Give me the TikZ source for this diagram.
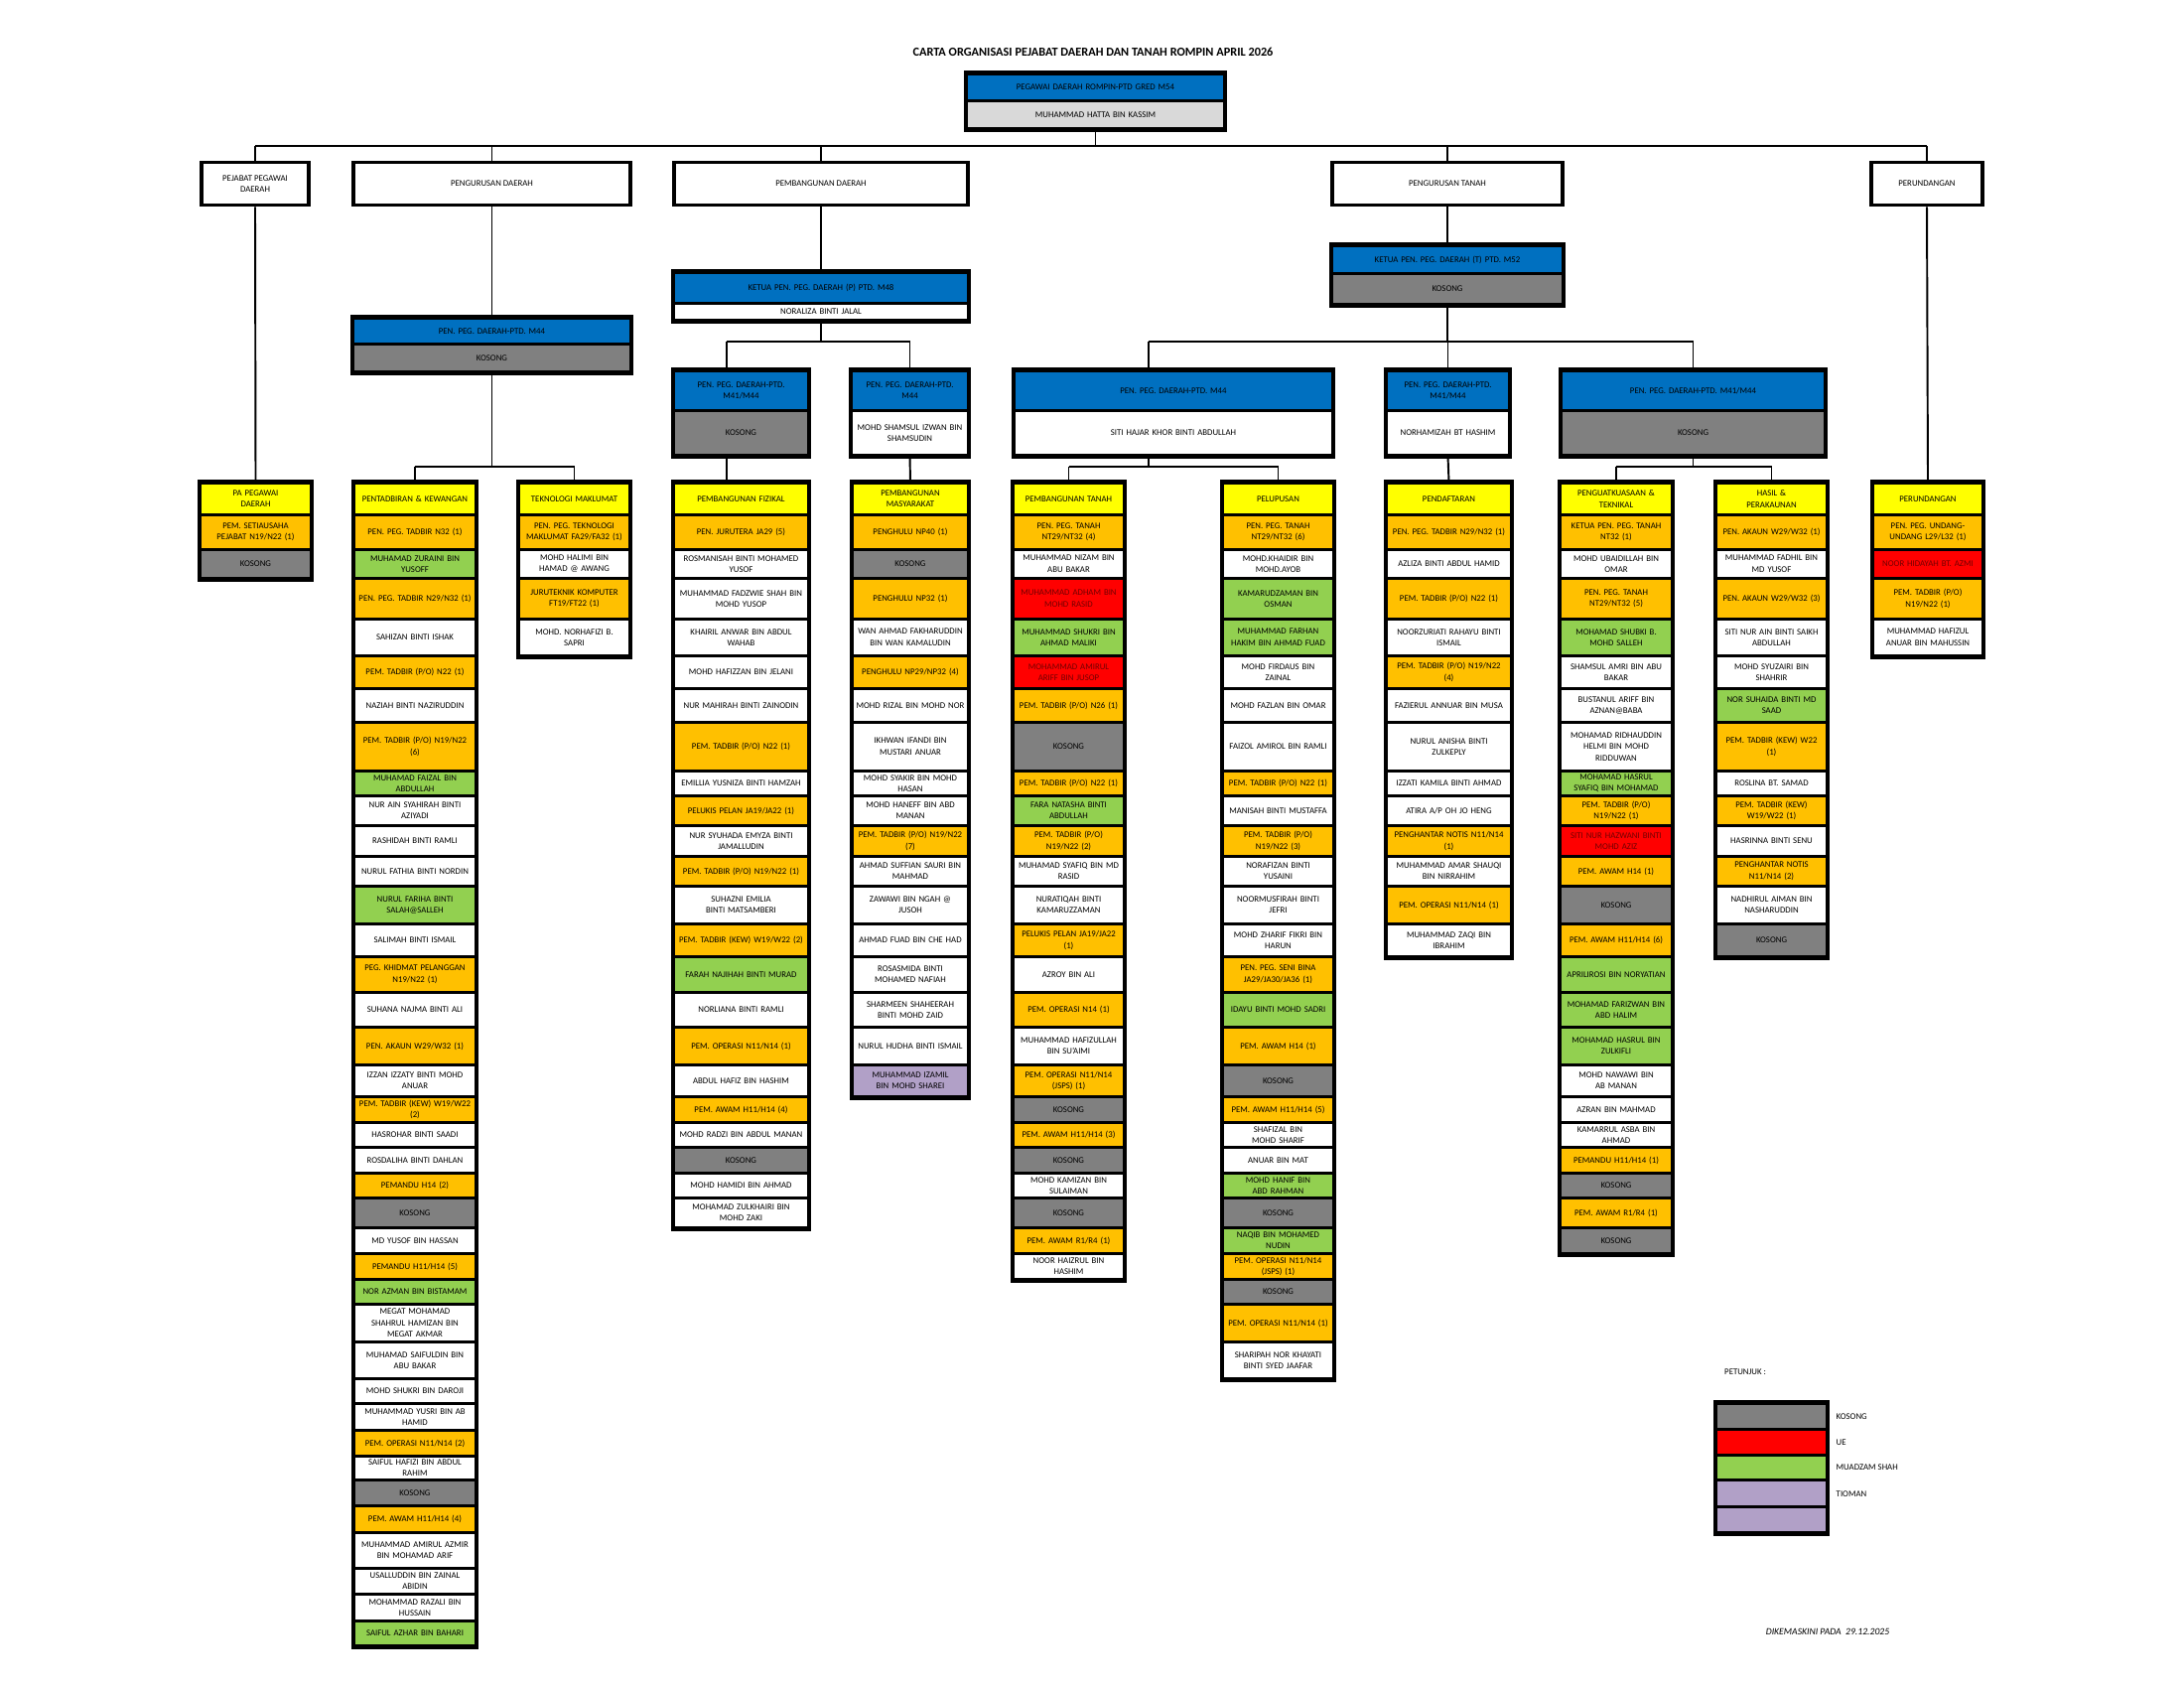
\documentclass[tikz,border=0pt]{standalone}
\usepackage{fontspec}
\setmainfont{Carlito}
\usetikzlibrary{matrix, positioning}

\definecolor{biru}{HTML}{0070C0}
\definecolor{kuning}{HTML}{FFFF00}
\definecolor{jingga}{HTML}{FFC000}
\definecolor{hijau}{HTML}{92D050}
\definecolor{merah}{HTML}{FF0000}
\definecolor{kelabu}{HTML}{808080}
\definecolor{ungu}{HTML}{B1A0C7}
\definecolor{cerah}{HTML}{D9D9D9}

\newcommand{\selfont}{\fontsize{5}{6.5}\selectfont\hyphenpenalty=10000 \exhyphenpenalty=10000 }

\tikzset{
  ht/.style={minimum height=#1*0.02cm},
  cw/.style={nodes={text width=#1}},
  % the excel rows shared by every column
  grid-rows/.style={
    row 1/.style={ht=32}, row 2/.style={ht=35}, row 3/.style={ht=29}, row 4/.style={ht=41},
    row 5/.style={ht=37}, row 6/.style={ht=33}, row 7/.style={ht=34}, row 8/.style={ht=49},
    row 9/.style={ht=25}, row 10/.style={ht=30}, row 11/.style={ht=31}, row 12/.style={ht=30},
    row 13/.style={ht=38}, row 14/.style={ht=33}, row 15/.style={ht=36}, row 16/.style={ht=35},
    row 17/.style={ht=38}, row 18/.style={ht=32}, row 19/.style={ht=26}, row 20/.style={ht=25},
    row 21/.style={ht=26}, row 22/.style={ht=25}, row 23/.style={ht=30}, row 24/.style={ht=26},
    row 25/.style={ht=26}, row 26/.style={ht=25}, row 27/.style={ht=38}, row 28/.style={ht=37},
    row 29/.style={ht=25}, row 30/.style={ht=27}, row 31/.style={ht=26}, row 32/.style={ht=24},
    row 33/.style={ht=26}, row 34/.style={ht=27}, row 35/.style={ht=36}, row 36/.style={ht=26},
    row 37/.style={ht=27}, row 38/.style={ht=25}}
}

\begin{document}
\begin{tikzpicture}[x=0.02cm, y=-0.02cm,
    org-cell/.style={draw, line width=1.6pt, fill=white, inner xsep=0pt, inner ysep=0.3pt, align=center, font=\selfont},
    org-box/.style={matrix of nodes, anchor=north, draw, line width=2.1pt, inner sep=0pt, outer sep=0pt, row sep=-1.6pt, nodes={org-cell}},
    org-col/.style={org-box, grid-rows},
    bahagian/.style={draw, line width=2.1pt, fill=white, align=center, font=\selfont, minimum height=0.86cm, inner sep=1pt},
    bah/.style={fill=kuning}, jaw/.style={fill=jingga}, kos/.style={fill=kelabu},
    ue/.style={fill=merah, text=red!45!black}, mua/.style={fill=hijau}, tio/.style={fill=ungu},
    ket/.style={fill=biru}, lg/.style={fill=cerah},
    garis/.style={line width=1.1pt}, palang/.style={line width=1.7pt}
  ]
  \useasboundingbox (0,0) rectangle (2200,1700);

  \node[font=\fontsize{7}{8}\selectfont\bfseries] (tajuk) at (1101,52) {CARTA ORGANISASI PEJABAT DAERAH DAN TANAH ROMPIN APRIL 2026};

  \matrix (dist) [org-box, cw=5.18cm] at (1103.5,73) {
    |[ket,ht=27]| PEGAWAI DAERAH ROMPIN-PTD GRED M54 \\
    |[lg,ht=28]| MUHAMMAD HATTA BIN KASSIM \\
  };

  % bahagian
  \node[bahagian, minimum width=2.16cm] (pa) at (257,185) {PEJABAT PEGAWAI\\DAERAH};
  \node[bahagian, minimum width=5.58cm] (pdaerah) at (495.5,185) {PENGURUSAN DAERAH};
  \node[bahagian, minimum width=5.92cm] (pbangunan) at (827,185) {PEMBANGUNAN DAERAH};
  \node[bahagian, minimum width=4.64cm] (ptanah) at (1458,185) {PENGURUSAN TANAH};
  \node[bahagian, minimum width=2.24cm] (perund) at (1941,185) {PERUNDANGAN};

  % ketua unit
  \matrix (m44a) [org-box, cw=5.58cm] at (495.5,319) {
    |[ket,ht=26]| PEN. PEG. DAERAH-PTD. M44 \\
    |[kos,ht=28]| KOSONG \\
  };
  \matrix (ketuap) [org-box, cw=5.92cm] at (827,273) {
    |[ket,ht=31]| KETUA PEN. PEG. DAERAH (P) PTD. M48 \\
    |[ht=17]| NORALIZA BINTI JALAL \\
  };
  \matrix (ketuat) [org-box, cw=4.64cm] at (1458,246) {
    |[ket,ht=28]| KETUA PEN. PEG. DAERAH (T) PTD. M52 \\
    |[kos,ht=31]| KOSONG \\
  };
  \matrix (dp1) [org-box, cw=2.70cm] at (746.5,372) {
    |[ket,ht=40]| {PEN. PEG. DAERAH-PTD.\\M41/M44} \\
    |[kos,ht=45]| KOSONG \\
  };
  \matrix (dp2) [org-box, cw=2.34cm] at (916.5,372) {
    |[ket,ht=40]| {PEN. PEG. DAERAH-PTD.\\M44} \\
    |[ht=45]| {MOHD SHAMSUL IZWAN BIN\\SHAMSUDIN} \\
  };
  \matrix (dt1) [org-box, cw=6.40cm] at (1182,372) {
    |[ket,ht=40]| PEN. PEG. DAERAH-PTD. M44 \\
    |[ht=45]| SITI HAJAR KHOR BINTI ABDULLAH \\
  };
  \matrix (dt2) [org-box, cw=2.46cm] at (1458.5,372) {
    |[ket,ht=40]| {PEN. PEG. DAERAH-PTD.\\M41/M44} \\
    |[ht=45]| NORHAMIZAH BT HASHIM \\
  };
  \matrix (dt3) [org-box, cw=5.30cm] at (1705.5,372) {
    |[ket,ht=40]| PEN. PEG. DAERAH-PTD. M41/M44 \\
    |[kos,ht=45]| KOSONG \\
  };

  % unit
  \matrix (pejabat) [org-col, cw=2.22cm] at (257.5,485) {
    |[bah]| {PA PEGAWAI\\DAERAH} \\
    |[jaw]| {PEM. SETIAUSAHA\\PEJABAT N19/N22 (1)} \\
    |[kos]| KOSONG \\
  };

  \matrix (pentadbiran) [org-col, cw=2.44cm] at (418,485) {
    |[bah]| PENTADBIRAN \& KEWANGAN \\
    |[jaw]| PEN. PEG. TADBIR N32 (1) \\
    |[mua]| {MUHAMAD ZURAINI BIN\\YUSOFF} \\
    |[jaw]| PEN. PEG. TADBIR N29/N32 (1) \\
    SAHIZAN BINTI ISHAK \\
    |[jaw]| PEM. TADBIR (P/O) N22 (1) \\
    NAZIAH BINTI NAZIRUDDIN \\
    |[jaw]| {PEM. TADBIR (P/O) N19/N22\\(6)} \\
    |[mua]| {MUHAMAD FAIZAL BIN\\ABDULLAH} \\
    {NUR AIN SYAHIRAH BINTI\\AZIYADI} \\
    RASHIDAH BINTI RAMLI \\
    NURUL FATHIA BINTI NORDIN \\
    |[mua]| {NURUL FARIHA BINTI\\SALAH@SALLEH} \\
    SALIMAH BINTI ISMAIL \\
    |[jaw]| {PEG. KHIDMAT PELANGGAN\\N19/N22 (1)} \\
    SUHANA NAJMA BINTI ALI \\
    |[jaw]| PEN. AKAUN W29/W32 (1) \\
    {IZZAN IZZATY BINTI MOHD\\ANUAR} \\
    |[jaw]| {PEM. TADBIR (KEW) W19/W22\\(2)} \\
    HASROHAR BINTI SAADI \\
    ROSDALIHA BINTI DAHLAN \\
    |[jaw]| PEMANDU H14 (2) \\
    |[kos]| KOSONG \\
    MD YUSOF BIN HASSAN \\
    |[jaw]| PEMANDU H11/H14 (5) \\
    |[mua]| NOR AZMAN BIN BISTAMAM \\
    {MEGAT MOHAMAD\\SHAHRUL HAMIZAN BIN\\MEGAT AKMAR} \\
    {MUHAMAD SAIFULDIN BIN\\ABU BAKAR} \\
    MOHD SHUKRI BIN DAROJI \\
    {MUHAMMAD YUSRI BIN AB\\HAMID} \\
    |[jaw]| PEM. OPERASI N11/N14 (2) \\
    {SAIFUL HAFIZI BIN ABDUL\\RAHIM} \\
    |[kos]| KOSONG \\
    |[jaw]| PEM. AWAM H11/H14 (4) \\
    {MUHAMMAD AMIRUL AZMIR\\BIN MOHAMAD ARIF} \\
    {USALLUDDIN BIN ZAINAL\\ABIDIN} \\
    {MOHAMMAD RAZALI BIN\\HUSSAIN} \\
    |[mua]| SAIFUL AZHAR BIN BAHARI \\
  };

  \matrix (teknologi) [org-col, cw=2.22cm] at (578.5,485) {
    |[bah]| TEKNOLOGI MAKLUMAT \\
    |[jaw]| {PEN. PEG. TEKNOLOGI\\MAKLUMAT FA29/FA32 (1)} \\
    {MOHD HALIMI BIN\\HAMAD @ AWANG} \\
    |[jaw]| {JURUTEKNIK KOMPUTER\\FT19/FT22 (1)} \\
    {MOHD. NORHAFIZI B.\\SAPRI} \\
  };

  \matrix (fizikal) [org-col, cw=2.70cm] at (746.5,485) {
    |[bah]| PEMBANGUNAN FIZIKAL \\
    |[jaw]| PEN. JURUTERA JA29 (5) \\
    {ROSMANISAH BINTI MOHAMED\\YUSOF} \\
    {MUHAMMAD FADZWIE SHAH BIN\\MOHD YUSOP} \\
    {KHAIRIL ANWAR BIN ABDUL\\WAHAB} \\
    MOHD HAFIZZAN BIN JELANI \\
    NUR MAHIRAH BINTI ZAINODIN \\
    |[jaw]| PEM. TADBIR (P/O) N22 (1) \\
    EMILLIA YUSNIZA BINTI HAMZAH \\
    |[jaw]| PELUKIS PELAN JA19/JA22 (1) \\
    {NUR SYUHADA EMYZA BINTI\\JAMALLUDIN} \\
    |[jaw]| PEM. TADBIR (P/O) N19/N22 (1) \\
    {SUHAZNI EMILIA\\BINTI MATSAMBERI} \\
    |[jaw]| PEM. TADBIR (KEW) W19/W22 (2) \\
    |[mua]| FARAH NAJIHAH BINTI MURAD \\
    NORLIANA BINTI RAMLI \\
    |[jaw]| PEM. OPERASI N11/N14 (1) \\
    ABDUL HAFIZ BIN HASHIM \\
    |[jaw]| PEM. AWAM H11/H14 (4) \\
    MOHD RADZI BIN ABDUL MANAN \\
    |[kos]| KOSONG \\
    MOHD HAMIDI BIN AHMAD \\
    {MOHAMAD ZULKHAIRI BIN\\MOHD ZAKI} \\
  };

  \matrix (masyarakat) [org-col, cw=2.32cm] at (917,485) {
    |[bah]| {PEMBANGUNAN\\MASYARAKAT} \\
    |[jaw]| PENGHULU NP40 (1) \\
    |[kos]| KOSONG \\
    |[jaw]| PENGHULU NP32 (1) \\
    {WAN AHMAD FAKHARUDDIN\\BIN WAN KAMALUDIN} \\
    |[jaw]| PENGHULU NP29/NP32 (4) \\
    MOHD RIZAL BIN MOHD NOR \\
    {IKHWAN IFANDI BIN\\MUSTARI ANUAR} \\
    {MOHD SYAKIR BIN MOHD\\HASAN} \\
    {MOHD HANEFF BIN ABD\\MANAN} \\
    |[jaw]| {PEM. TADBIR (P/O) N19/N22\\(7)} \\
    {AHMAD SUFFIAN SAURI BIN\\MAHMAD} \\
    {ZAWAWI BIN NGAH @\\JUSOH} \\
    AHMAD FUAD BIN CHE HAD \\
    {ROSASMIDA BINTI\\MOHAMED NAFIAH} \\
    {SHARMEEN SHAHEERAH\\BINTI MOHD ZAID} \\
    NURUL HUDHA BINTI ISMAIL \\
    |[tio]| {MUHAMMAD IZAMIL\\BIN MOHD SHAREI} \\
  };

  \matrix (pbtanah) [org-col, cw=2.22cm] at (1076.5,485) {
    |[bah]| PEMBANGUNAN TANAH \\
    |[jaw]| {PEN. PEG. TANAH\\NT29/NT32 (4)} \\
    {MUHAMMAD NIZAM BIN\\ABU BAKAR} \\
    |[ue]| {MUHAMMAD ADHAM BIN\\MOHD RASID} \\
    |[mua]| {MUHAMMAD SHUKRI BIN\\AHMAD MALIKI} \\
    |[ue]| {MOHAMMAD AMIRUL\\ARIFF BIN JUSOP} \\
    |[jaw]| PEM. TADBIR (P/O) N26 (1) \\
    |[kos]| KOSONG \\
    |[jaw]| PEM. TADBIR (P/O) N22 (1) \\
    |[mua]| {FARA NATASHA BINTI\\ABDULLAH} \\
    |[jaw]| {PEM. TADBIR (P/O)\\N19/N22 (2)} \\
    {MUHAMAD SYAFIQ BIN MD\\RASID} \\
    {NURATIQAH BINTI\\KAMARUZZAMAN} \\
    |[jaw]| {PELUKIS PELAN JA19/JA22\\(1)} \\
    AZROY BIN ALI \\
    |[jaw]| PEM. OPERASI N14 (1) \\
    {MUHAMMAD HAFIZULLAH\\BIN SU'AIMI} \\
    |[jaw]| {PEM. OPERASI N11/N14\\(JSPS) (1)} \\
    |[kos]| KOSONG \\
    |[jaw]| PEM. AWAM H11/H14 (3) \\
    |[kos]| KOSONG \\
    {MOHD KAMIZAN BIN\\SULAIMAN} \\
    |[kos]| KOSONG \\
    |[jaw]| PEM. AWAM R1/R4 (1) \\
    {NOOR HAIZRUL BIN\\HASHIM} \\
  };

  \matrix (pelupusan) [org-col, cw=2.22cm] at (1287.5,485) {
    |[bah]| PELUPUSAN \\
    |[jaw]| {PEN. PEG. TANAH\\NT29/NT32 (6)} \\
    {MOHD.KHAIDIR BIN\\MOHD.AYOB} \\
    |[mua]| {KAMARUDZAMAN BIN\\OSMAN} \\
    |[mua]| {MUHAMMAD FARHAN\\HAKIM BIN AHMAD FUAD} \\
    {MOHD FIRDAUS BIN\\ZAINAL} \\
    MOHD FAZLAN BIN OMAR \\
    FAIZOL AMIROL BIN RAMLI \\
    |[jaw]| PEM. TADBIR (P/O) N22 (1) \\
    MANISAH BINTI MUSTAFFA \\
    |[jaw]| {PEM. TADBIR (P/O)\\N19/N22 (3)} \\
    {NORAFIZAN BINTI\\YUSAINI} \\
    {NOORMUSFIRAH BINTI\\JEFRI} \\
    {MOHD ZHARIF FIKRI BIN\\HARUN} \\
    |[jaw]| {PEN. PEG. SENI BINA\\JA29/JA30/JA36 (1)} \\
    |[mua]| IDAYU BINTI MOHD SADRI \\
    |[jaw]| PEM. AWAM H14 (1) \\
    |[kos]| KOSONG \\
    |[jaw]| PEM. AWAM H11/H14 (5) \\
    {SHAFIZAL BIN\\MOHD SHARIF} \\
    ANUAR BIN MAT \\
    |[mua]| {MOHD HANIF BIN\\ABD RAHMAN} \\
    |[kos]| KOSONG \\
    |[mua]| {NAQIB BIN MOHAMED\\NUDIN} \\
    |[jaw]| {PEM. OPERASI N11/N14\\(JSPS) (1)} \\
    |[kos]| KOSONG \\
    |[jaw]| PEM. OPERASI N11/N14 (1) \\
    {SHARIPAH NOR KHAYATI\\BINTI SYED JAAFAR} \\
  };

  \matrix (pendaftaran) [org-col, cw=2.50cm] at (1459.5,485) {
    |[bah]| PENDAFTARAN \\
    |[jaw]| PEN. PEG. TADBIR N29/N32 (1) \\
    AZLIZA BINTI ABDUL HAMID \\
    |[jaw]| PEM. TADBIR (P/O) N22 (1) \\
    {NOORZURIATI RAHAYU BINTI\\ISMAIL} \\
    |[jaw]| {PEM. TADBIR (P/O) N19/N22\\(4)} \\
    FAZIERUL ANNUAR BIN MUSA \\
    {NURUL ANISHA BINTI\\ZULKEPLY} \\
    IZZATI KAMILA BINTI AHMAD \\
    ATIRA A/P OH JO HENG \\
    |[jaw]| {PENGHANTAR NOTIS N11/N14\\(1)} \\
    {MUHAMMAD AMAR SHAUQI\\BIN NIRRAHIM} \\
    |[jaw]| PEM. OPERASI N11/N14 (1) \\
    {MUHAMMAD ZAQI BIN\\IBRAHIM} \\
  };

  \matrix (penguatkuasaan) [org-col, cw=2.24cm] at (1628,485) {
    |[bah]| {PENGUATKUASAAN \&\\TEKNIKAL} \\
    |[jaw]| {KETUA PEN. PEG. TANAH\\NT32 (1)} \\
    {MOHD UBAIDILLAH BIN\\OMAR} \\
    |[jaw]| {PEN. PEG. TANAH\\NT29/NT32 (5)} \\
    |[mua]| {MOHAMAD SHUBKI B.\\MOHD SALLEH} \\
    {SHAMSUL AMRI BIN ABU\\BAKAR} \\
    {BUSTANUL ARIFF BIN\\AZNAN@BABA} \\
    {MOHAMAD RIDHAUDDIN\\HELMI BIN MOHD\\RIDDUWAN} \\
    |[mua]| {MOHAMAD HASRUL\\SYAFIQ BIN MOHAMAD} \\
    |[jaw]| {PEM. TADBIR (P/O)\\N19/N22 (1)} \\
    |[ue]| {SITI NUR HAZWANI BINTI\\MOHD AZIZ} \\
    |[jaw]| PEM. AWAM H14 (1) \\
    |[kos]| KOSONG \\
    |[jaw]| PEM. AWAM H11/H14 (6) \\
    |[mua]| APRILIROSI BIN NORYATIAN \\
    |[mua]| {MOHAMAD FARIZWAN BIN\\ABD HALIM} \\
    |[mua]| {MOHAMAD HASRUL BIN\\ZULKIFLI} \\
    {MOHD NAWAWI BIN\\AB MANAN} \\
    AZRAN BIN MAHMAD \\
    {KAMARRUL ASBA BIN\\AHMAD} \\
    |[jaw]| PEMANDU H11/H14 (1) \\
    |[kos]| KOSONG \\
    |[jaw]| PEM. AWAM R1/R4 (1) \\
    |[kos]| KOSONG \\
  };

  \matrix (hasil) [org-col, cw=2.22cm] at (1784.5,485) {
    |[bah]| {HASIL \&\\PERAKAUNAN} \\
    |[jaw]| PEN. AKAUN W29/W32 (1) \\
    {MUHAMMAD FADHIL BIN\\MD YUSOF} \\
    |[jaw]| PEN. AKAUN W29/W32 (3) \\
    {SITI NUR AIN BINTI SAIKH\\ABDULLAH} \\
    {MOHD SYUZAIRI BIN\\SHAHRIR} \\
    |[mua]| {NOR SUHAIDA BINTI MD\\SAAD} \\
    |[jaw]| {PEM. TADBIR (KEW) W22\\(1)} \\
    ROSLINA BT. SAMAD \\
    |[jaw]| {PEM. TADBIR (KEW)\\W19/W22 (1)} \\
    HASRINNA BINTI SENU \\
    |[jaw]| {PENGHANTAR NOTIS\\N11/N14 (2)} \\
    {NADHIRUL AIMAN BIN\\NASHARUDDIN} \\
    |[kos]| KOSONG \\
  };

  \matrix (undang) [org-col, cw=2.20cm] at (1942,485) {
    |[bah]| PERUNDANGAN \\
    |[jaw]| {PEN. PEG. UNDANG-\\UNDANG L29/L32 (1)} \\
    |[ue]| NOOR HIDAYAH BT. AZMI \\
    |[jaw]| {PEM. TADBIR (P/O)\\N19/N22 (1)} \\
    {MUHAMMAD HAFIZUL\\ANUAR BIN MAHUSSIN} \\
  };

  % petunjuk
  \node[font=\selfont, anchor=west] (petunjuk) at (1731,1382) {PETUNJUK :};
  \matrix (kunci) [org-box, cw=2.22cm, nodes in empty cells] at (1784.5,1412) {
    |[kos,ht=26]| \\
    |[ue,ht=26]| \\
    |[mua,ht=25]| \\
    |[tio,ht=27]| \\
    |[tio,ht=26]| \\
  };
  \node[font=\selfont, anchor=south west] (k-kos) at ([xshift=2pt,yshift=2pt]kunci-1-1.south east) {KOSONG};
  \node[font=\selfont, anchor=south west] (k-ue) at ([xshift=2pt,yshift=2pt]kunci-2-1.south east) {UE};
  \node[font=\selfont, anchor=south west] (k-mua) at ([xshift=2pt,yshift=2pt]kunci-3-1.south east) {MUADZAM SHAH};
  \node[font=\selfont, anchor=south west] (k-tio) at ([xshift=2pt,yshift=2pt]kunci-4-1.south east) {TIOMAN};

  \node[font=\fontsize{5.5}{6.5}\selectfont\itshape] (kemaskini) at (1841,1643) {DIKEMASKINI PADA\ \ 29.12.2025};

  % garis penghubung
  \coordinate (aras0) at (0,147);
  \coordinate (aras1) at (0,344);
  \coordinate (aras2) at (0,470);

  \draw[garis] (dist.south) -- (dist.south |- aras0);
  \draw[palang] (pa.north |- aras0) -- (perund.north |- aras0);
  \foreach \b in {pa, pdaerah, pbangunan, ptanah, perund}
    \draw[garis] (\b.north |- aras0) -- (\b.north);

  \draw[garis] (pa.south) -- (pejabat.north);
  \draw[garis] (pdaerah.south) -- (m44a.north);
  \draw[garis] (pbangunan.south) -- (ketuap.north);
  \draw[garis] (ptanah.south) -- (ketuat.north);
  \draw[garis] (perund.south) -- (undang.north);

  \draw[garis] (ketuap.south) -- (ketuap.south |- aras1);
  \draw[palang] ([xshift=-0.29cm]dp1.north |- aras1) -- (dp2.north |- aras1);
  \draw[garis] ([xshift=-0.29cm]dp1.north |- aras1) -- ([xshift=-0.29cm]dp1.north);
  \draw[garis] (dp2.north |- aras1) -- (dp2.north);

  \draw[garis] (ketuat.south) -- (ketuat.south |- aras1);
  \draw[palang] ([xshift=-0.5cm]dt1.north |- aras1) -- (dt3.north |- aras1);
  \draw[garis] ([xshift=-0.5cm]dt1.north |- aras1) -- ([xshift=-0.5cm]dt1.north);
  \foreach \b in {dt2, dt3}
    \draw[garis] (\b.north |- aras1) -- (\b.north);

  \draw[garis] (m44a.south) -- (m44a.south |- aras2);
  \draw[palang] (pentadbiran.north |- aras2) -- (teknologi.north |- aras2);
  \foreach \b in {pentadbiran, teknologi}
    \draw[garis] (\b.north |- aras2) -- (\b.north);

  \draw[garis] ([xshift=-0.29cm]dp1.south) -- ([xshift=-0.29cm]fizikal.north);
  \draw[garis] (dp2.south) -- (masyarakat.north);

  \draw[garis] ([xshift=-0.5cm]dt1.south) -- ([xshift=-0.5cm]dt1.south |- aras2);
  \draw[palang] (pbtanah.north |- aras2) -- (pelupusan.north |- aras2);
  \foreach \b in {pbtanah, pelupusan}
    \draw[garis] (\b.north |- aras2) -- (\b.north);

  \draw[garis] (dt2.south) -- (pendaftaran.north);

  \draw[garis] (dt3.south) -- (dt3.south |- aras2);
  \draw[palang] (penguatkuasaan.north |- aras2) -- (hasil.north |- aras2);
  \foreach \b in {penguatkuasaan, hasil}
    \draw[garis] (\b.north |- aras2) -- (\b.north);

\end{tikzpicture}
\end{document}
